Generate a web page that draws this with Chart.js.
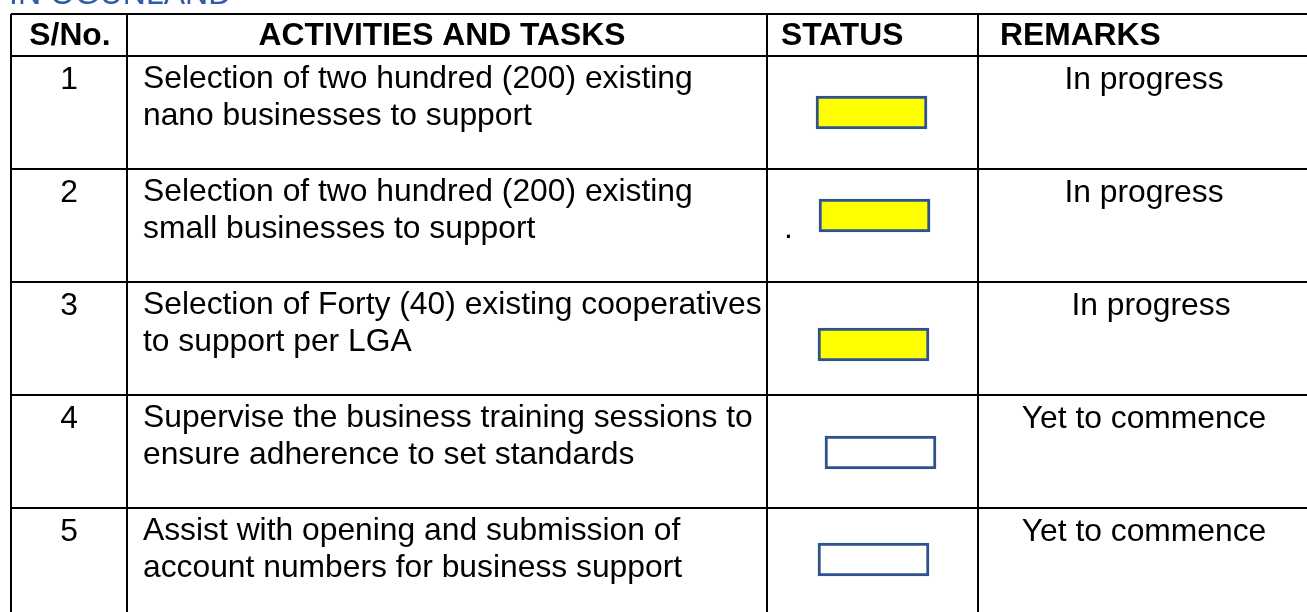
<!DOCTYPE html>
<html>
<head>
<meta charset="utf-8">
<script src="https://cdn.jsdelivr.net/npm/chart.js@4.4.0/dist/chart.umd.min.js"></script>
<style>
  html, body { margin: 0; padding: 0; background: #fff; overflow: hidden; }
  canvas { display: block; }
</style>
</head>
<body>
<canvas id="table" width="1307" height="612"></canvas>
<script>
const caption = "IN OGUNLAND";
const headers = ["S/No.", "ACTIVITIES AND TASKS", "STATUS", "REMARKS"];
const serialNos = ["1", "2", "3", "4", "5"];
const activities = [
  ["Selection of two hundred (200) existing", "nano businesses to support"],
  ["Selection of two hundred (200) existing", "small businesses to support"],
  ["Selection of Forty (40) existing cooperatives", "to support per LGA"],
  ["Supervise the business training sessions to", "ensure adherence to set standards"],
  ["Assist with opening and submission of", "account numbers for business support"]
];
const statusDone = [true, true, true, false, false];
const remarks = ["In progress", "In progress", "In progress", "Yet to commence", "Yet to commence"];

// layout, in pixels
const colEdges = [11, 127, 767, 978];
const headerPx = 42;
const rowPx = 113;
const boxLeft = [816, 819, 818, 825, 818];
const boxWidth = 111;
const boxNudge = [0, -10, 6, 1, -5];
const remarkNudge = [0, 0, 7, 0, 0];

const FONT = '"Liberation Sans", Arial, sans-serif';

const tableText = {
  id: "tableText",
  afterDatasetsDraw(chart) {
    const ctx = chart.ctx;
    const xs = chart.scales.x, ys = chart.scales.y;
    ctx.save();

    // caption, mostly cut off by the top edge
    ctx.fillStyle = "#2F5CA6";
    ctx.font = "32px " + FONT;
    ctx.textAlign = "left";
    ctx.textBaseline = "alphabetic";
    ctx.fillText(caption, 9, 4);

    ctx.fillStyle = "#000";
    ctx.font = "bold 31.8px " + FONT;
    const hy = ys.getPixelForValue(0) - 11;
    const hx = [[70, "center"], [442, "center"], [781, "left"], [1000, "left"]];
    headers.forEach(function (h, i) {
      ctx.textAlign = hx[i][1];
      ctx.fillText(h, xs.getPixelForValue(hx[i][0]), hy);
    });

    ctx.font = "31.8px " + FONT;
    serialNos.forEach(function (n, i) {
      const top = ys.getPixelForValue(i);
      ctx.textAlign = "center";
      ctx.fillText(n, xs.getPixelForValue(69), top + 33);
      ctx.textAlign = "left";
      ctx.fillText(activities[i][0], xs.getPixelForValue(143), top + 32);
      ctx.fillText(activities[i][1], xs.getPixelForValue(143), top + 69);
      ctx.textAlign = "center";
      ctx.fillText(remarks[i], xs.getPixelForValue(1144 + remarkNudge[i]), top + 33);
    });

    // stray full stop in the status cell of row 2
    ctx.textAlign = "left";
    ctx.fillText(".", xs.getPixelForValue(784), ys.getPixelForValue(1) + 69);
    ctx.restore();
  }
};

new Chart(document.getElementById("table").getContext("2d"), {
  type: "bar",
  data: {
    datasets: [{
      data: statusDone.map(function (d, i) {
        return { y: i + 0.5 + boxNudge[i] / rowPx, x: [boxLeft[i], boxLeft[i] + boxWidth] };
      }),
      backgroundColor: statusDone.map(function (d) { return d ? "#FFFF00" : "#FFFFFF"; }),
      borderColor: "#2F528F",
      borderWidth: 3,
      borderSkipped: false,
      barThickness: 33
    }]
  },
  options: {
    indexAxis: "y",
    responsive: false,
    animation: false,
    events: [],
    layout: { padding: { top: 14, left: 11, right: 0, bottom: 0 } },
    plugins: { legend: { display: false }, tooltip: { enabled: false }, title: { display: false } },
    scales: {
      x: {
        type: "linear",
        min: 11,
        max: 1307,
        offset: false,
        afterBuildTicks: function (axis) { axis.ticks = colEdges.map(function (v) { return { value: v }; }); },
        ticks: { display: false },
        border: { display: false },
        grid: { color: "#000", lineWidth: 2, drawTicks: false, offset: false }
      },
      y: {
        type: "linear",
        reverse: true,
        offset: false,
        min: -headerPx / rowPx,
        max: (612 - 14 - headerPx) / rowPx,
        afterBuildTicks: function (axis) {
          axis.ticks = [-headerPx / rowPx, 0, 1, 2, 3, 4].map(function (v) { return { value: v }; });
        },
        ticks: { display: false },
        border: { display: false },
        grid: { color: "#000", lineWidth: 2, drawTicks: false, offset: false }
      }
    }
  },
  plugins: [tableText]
});
</script>
</body>
</html>
